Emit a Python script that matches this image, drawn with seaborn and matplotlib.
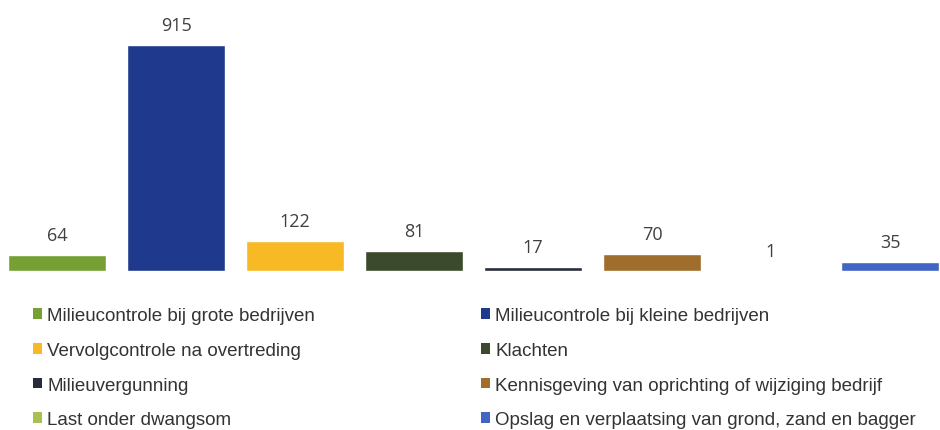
import matplotlib
matplotlib.use("Agg")
import matplotlib.pyplot as plt
import seaborn as sns
import pandas as pd
from matplotlib.patches import Patch

categories = [
    "Milieucontrole bij grote bedrijven",
    "Milieucontrole bij kleine bedrijven",
    "Vervolgcontrole na overtreding",
    "Klachten",
    "Milieuvergunning",
    "Kennisgeving van oprichting of wijziging bedrijf",
    "Last onder dwangsom",
    "Opslag en verplaatsing van grond, zand en bagger",
]
values = [64, 915, 122, 81, 17, 70, 1, 35]
colors = ["#76a034", "#1f3a8c", "#f7b924", "#3b4a2c", "#262c3a", "#a06e2c", "#a8c050", "#4264c4"]

sns.set_theme(style="white")
plt.rcParams["font.family"] = ["Liberation Sans", "DejaVu Sans"]

df = pd.DataFrame({"cat": categories, "val": values})

fig = plt.figure(figsize=(9.4, 4.31), dpi=100)
ax = fig.add_axes([0, 1 - 272 / 431, 1, 272 / 431])
sns.barplot(data=df, x="cat", y="val", hue="cat", palette=colors, order=categories,
            hue_order=categories, dodge=False, width=0.82, legend=False, ax=ax, saturation=1)
ax.set_xlim(-0.479, 7.42)
ax.set_ylim(0, 1101)
ax.axis("off")

for i, v in enumerate(values):
    ax.annotate(str(v), (i, v), xytext=(0, 8), textcoords="offset points",
                ha="center", va="bottom", fontsize=13, color="#404040",
                family=["Open Sans", "DejaVu Sans"])

handles = [Patch(facecolor=c, edgecolor="none") for c in colors]
left_idx = [0, 2, 4, 6]
right_idx = [1, 3, 5, 7]
for idx, x in ((left_idx, 33 / 940), (right_idx, 481 / 940)):
    fig.legend([handles[i] for i in idx], [categories[i] for i in idx],
               loc="upper left", bbox_to_anchor=(x, 1 - 308 / 431), frameon=False,
               ncol=1, prop={"family": "Liberation Sans", "size": 13.5},
               handlelength=0.5, handleheight=0.5,
               handletextpad=0.25, labelspacing=0.95, labelcolor="#333333",
               borderaxespad=0, borderpad=0)

fig.savefig("out.png", dpi=100)
